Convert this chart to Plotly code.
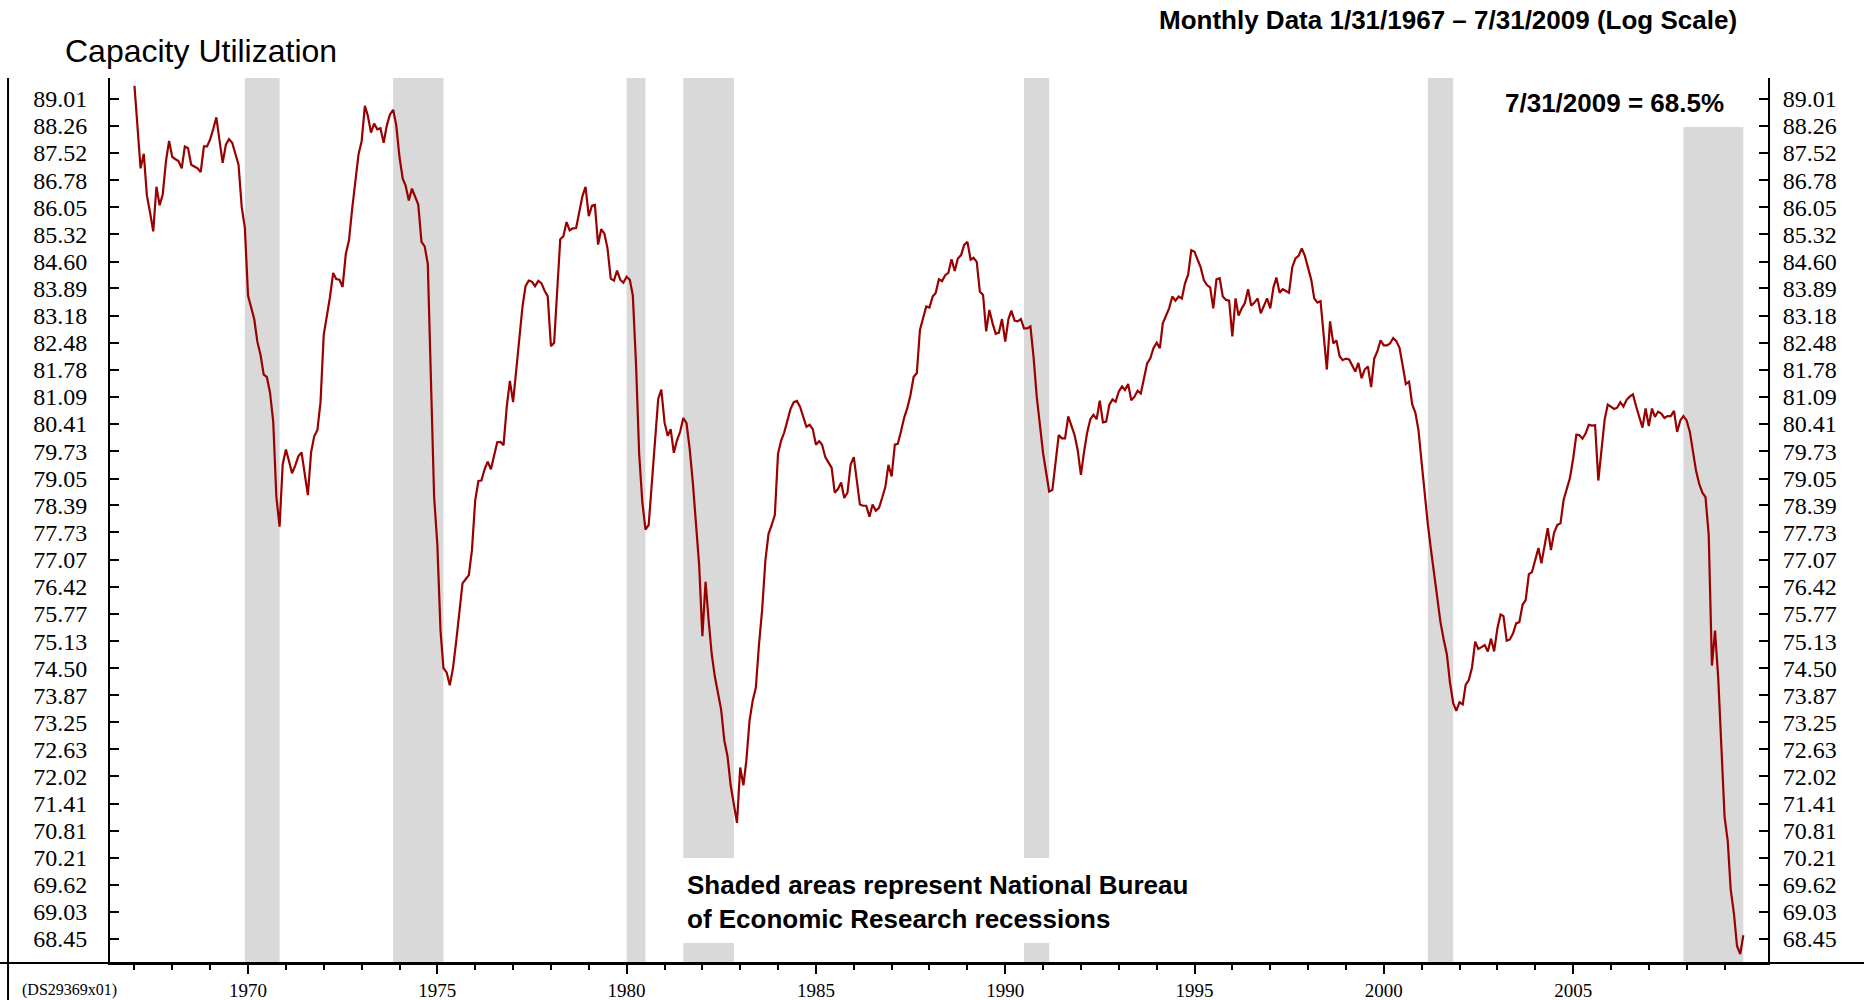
import pandas as pd
import plotly.graph_objects as go

# capacity utilization, monthly, Jan 1967 .. Jul 2009 (percent)
cu_1967_1969 = [
    89.38, 88.05, 87.10, 87.50, 86.36, 85.90, 85.40, 86.60, 86.10, 86.40, 87.30, 87.85,
    87.41, 87.35, 87.30, 87.10, 87.70, 87.65, 87.20, 87.15, 87.10, 87.00, 87.70, 87.70,
    87.90, 88.20, 88.50, 87.85, 87.25, 87.75, 87.90, 87.80, 87.50, 87.20, 86.05, 85.50,
]
cu_1970s = [
    83.70, 83.40, 83.10, 82.50, 82.17, 81.66, 81.60, 81.20, 80.46, 78.60, 77.87, 79.40,
    79.77, 79.47, 79.18, 79.37, 79.60, 79.70, 79.18, 78.64, 79.70, 80.10, 80.26, 80.96,
    82.68, 83.19, 83.66, 84.30, 84.14, 84.12, 83.93, 84.80, 85.17, 86.00, 86.76, 87.47,
    87.85, 88.82, 88.55, 88.08, 88.33, 88.17, 88.20, 87.80, 88.28, 88.58, 88.71, 88.28,
    87.41, 86.82, 86.63, 86.23, 86.55, 86.33, 86.12, 85.12, 85.00, 84.54, 81.56, 78.60,
    77.44, 75.37, 74.50, 74.40, 74.10, 74.50, 75.10, 75.75, 76.50, 76.60, 76.70, 77.30,
    78.50, 78.99, 79.00, 79.28, 79.47, 79.28, 79.62, 79.95, 79.96, 79.88, 80.85, 81.50,
    80.96, 81.80, 82.70, 83.40, 83.95, 84.10, 84.07, 83.95, 84.09, 84.03, 83.83, 83.69,
    82.39, 82.48, 83.77, 85.19, 85.27, 85.65, 85.43, 85.48, 85.49, 85.91, 86.35, 86.60,
    85.81, 86.09, 86.11, 85.05, 85.46, 85.34, 84.95, 84.15, 84.10, 84.36, 84.12, 84.04,
]
cu_1980s = [
    84.20, 84.12, 83.71, 81.93, 79.67, 78.46, 77.80, 77.91, 79.01, 80.11, 81.04, 81.28,
    80.45, 80.11, 80.28, 79.69, 80.00, 80.22, 80.56, 80.43, 79.78, 78.95, 78.02, 76.94,
    75.25, 76.54, 75.67, 74.83, 74.31, 73.90, 73.54, 72.83, 72.47, 71.82, 71.42, 70.98,
    72.22, 71.82, 72.37, 73.28, 73.74, 74.05, 75.04, 75.88, 77.05, 77.69, 77.91, 78.15,
    79.67, 80.00, 80.20, 80.50, 80.79, 80.96, 80.99, 80.84, 80.58, 80.34, 80.39, 80.28,
    79.89, 79.98, 79.89, 79.58, 79.45, 79.32, 78.70, 78.79, 78.95, 78.57, 78.70, 79.39,
    79.58, 79.01, 78.41, 78.38, 78.38, 78.11, 78.41, 78.26, 78.33, 78.57, 78.84, 79.39,
    79.10, 79.89, 79.91, 80.22, 80.56, 80.81, 81.13, 81.60, 81.70, 82.81, 83.16, 83.42,
    83.39, 83.68, 83.77, 84.13, 84.08, 84.24, 84.30, 84.66, 84.35, 84.68, 84.77, 85.04,
    85.12, 84.65, 84.70, 84.59, 83.81, 83.72, 82.77, 83.33, 82.98, 82.71, 82.74, 83.09,
]
cu_1990s = [
    82.51, 83.09, 83.31, 83.05, 83.03, 83.09, 82.85, 82.85, 82.90, 82.12, 81.10, 80.34,
    79.68, 79.18, 78.73, 78.77, 79.47, 80.13, 80.05, 80.05, 80.60, 80.39, 80.13, 79.76,
    79.14, 79.72, 80.19, 80.53, 80.64, 80.53, 81.00, 80.45, 80.47, 80.89, 81.03, 80.97,
    81.23, 81.36, 81.27, 81.42, 81.01, 81.10, 81.25, 81.18, 81.56, 81.95, 82.08, 82.34,
    82.48, 82.34, 82.98, 83.16, 83.37, 83.68, 83.57, 83.68, 83.63, 84.02, 84.26, 84.90,
    84.86, 84.64, 84.45, 84.11, 83.98, 83.92, 83.37, 84.13, 84.16, 83.68, 83.59, 83.57,
    82.64, 83.63, 83.18, 83.37, 83.51, 83.87, 83.44, 83.52, 83.63, 83.24, 83.44, 83.63,
    83.37, 83.92, 84.18, 83.78, 83.87, 83.83, 83.78, 84.45, 84.68, 84.75, 84.95, 84.75,
    84.40, 84.11, 83.63, 83.52, 83.56, 82.63, 81.79, 83.03, 82.46, 82.54, 82.13, 82.03,
    82.07, 82.05, 81.88, 81.74, 81.96, 81.57, 81.79, 81.87, 81.34, 82.07, 82.26, 82.54,
]
cu_2000s = [
    82.41, 82.41, 82.46, 82.60, 82.52, 82.35, 81.90, 81.42, 81.48, 80.91, 80.69, 80.25,
    79.43, 78.57, 77.93, 77.30, 76.72, 76.04, 75.58, 75.17, 74.82, 74.16, 73.69, 73.51,
    73.71, 73.66, 74.11, 74.23, 74.51, 75.12, 74.95, 74.99, 75.04, 74.89, 75.19, 74.89,
    75.43, 75.76, 75.72, 75.14, 75.17, 75.31, 75.55, 75.58, 75.99, 76.10, 76.72, 76.77,
    77.03, 77.35, 76.98, 77.38, 77.83, 77.30, 77.72, 77.91, 77.95, 78.52, 78.81, 79.06,
    79.54, 80.14, 80.13, 80.04, 80.17, 80.39, 80.37, 80.38, 79.00, 79.70, 80.52, 80.90,
    80.85, 80.79, 80.82, 80.96, 80.85, 81.02, 81.10, 81.16, 80.85, 80.61, 80.32, 80.80,
    80.36, 80.80, 80.59, 80.72, 80.67, 80.56, 80.61, 80.61, 80.74, 80.21, 80.50, 80.61,
    80.50, 80.21, 79.75, 79.24, 78.92, 78.70, 78.59, 77.67, 74.56, 75.38, 74.26, 72.62,
    71.12, 70.57, 69.52, 69.00, 68.30, 68.13, 68.53,
]

# NBER recessions (peak month .. trough month)
rec_start = ["1969-12-01", "1973-11-01", "1980-01-01", "1981-07-01", "1990-07-01", "2001-03-01", "2007-12-01"]
rec_end = ["1970-11-01", "1975-03-01", "1980-07-01", "1982-11-01", "1991-03-01", "2001-11-01", "2009-07-01"]

y_ticks = [89.01, 88.26, 87.52, 86.78, 86.05, 85.32, 84.60, 83.89, 83.18, 82.48, 81.78,
           81.09, 80.41, 79.73, 79.05, 78.39, 77.73, 77.07, 76.42, 75.77, 75.13, 74.50,
           73.87, 73.25, 72.63, 72.02, 71.41, 70.81, 70.21, 69.62, 69.03, 68.45]
label_years = [1970, 1975, 1980, 1985, 1990, 1995, 2000, 2005]
minor_years = list(range(1967, 2010))

values = cu_1967_1969 + cu_1970s + cu_1980s + cu_1990s + cu_2000s
dates = pd.date_range("1967-01-01", periods=len(values), freq="MS")

RED = "#990000"
GRAY = "#d9d9d9"
SERIF = "Liberation Serif, Times New Roman, serif"
SANS = "Liberation Sans, Arial, sans-serif"
y_range = [1.832114, 1.952291]
tick_text = ["%.2f" % v for v in y_ticks]

fig = go.Figure()
fig.add_trace(go.Scatter(x=dates, y=values, mode="lines",
                         line=dict(color=RED, width=2.2), hoverinfo="x+y"))
fig.add_trace(go.Scatter(x=[], y=[], yaxis="y2", showlegend=False))

shapes = []
for s, e in zip(rec_start, rec_end):
    shapes.append(dict(type="rect", xref="x", yref="paper", x0=s, x1=e, y0=0, y1=1,
                       fillcolor=GRAY, line_width=0, layer="below"))
# white backgrounds behind the two text notes
shapes.append(dict(type="rect", xref="paper", yref="paper", x0=0.33, x1=0.67, y0=0.0226, y1=0.1186,
                   fillcolor="white", line_width=0, layer="below"))
shapes.append(dict(type="rect", xref="paper", yref="paper", x0=0.832, x1=0.992, y0=0.9446, y1=1.0,
                   fillcolor="white", line_width=0, layer="below"))
# outer frame lines
shapes.append(dict(type="line", xref="paper", yref="paper", x0=-0.0615, x1=-0.0615, y0=1.0, y1=-0.05,
                   line=dict(color="black", width=2)))
shapes.append(dict(type="line", xref="paper", yref="paper", x0=-0.07, x1=1.07, y0=0, y1=0,
                   line=dict(color="black", width=2)))

axis_y = dict(type="log", range=y_range, tickvals=y_ticks, ticktext=tick_text,
              ticks="inside", ticklen=9, tickwidth=2, tickcolor="black", automargin=False,
              showline=True, linewidth=2, linecolor="black", showgrid=False, zeroline=False,
              tickfont=dict(family=SERIF, size=24, color="black"))

fig.update_layout(
    width=1864, height=1000,
    margin=dict(l=110, r=96, t=78, b=37),
    paper_bgcolor="white", plot_bgcolor="white",
    showlegend=False,
    xaxis=dict(type="date", range=["1966-05-10", "2010-02-24"],
               tickvals=["%d-01-01" % y for y in label_years], ticktext=[str(y) for y in label_years],
               ticks="outside", ticklen=9, tickwidth=2, tickcolor="black",
               minor=dict(tickvals=["%d-01-01" % y for y in minor_years], ticks="outside", ticklen=5,
                          tickwidth=2, tickcolor="black", showgrid=False),
               showline=True, linewidth=2, linecolor="black", showgrid=False, zeroline=False,
               automargin=False,
               tickfont=dict(family=SERIF, size=19, color="black"), ticklabelstandoff=0),
    yaxis=dict(axis_y, side="left", ticklabelstandoff=16),
    yaxis2=dict(axis_y, side="right", overlaying="y", ticklabelstandoff=8),
    shapes=shapes,
    annotations=[
        dict(text="Capacity Utilization", xref="paper", yref="paper", x=-0.0284, y=1.0305,
             xanchor="left", yanchor="middle", showarrow=False,
             font=dict(family=SANS, size=32, color="black")),
        dict(text="<b>Monthly Data 1/31/1967 \u2013 7/31/2009 (Log Scale)</b>", xref="paper", yref="paper",
             x=0.9825, y=1.066, xanchor="right", yanchor="middle", showarrow=False,
             font=dict(family=SANS, size=26, color="black")),
        dict(text="<b>7/31/2009 = 68.5%</b>", xref="paper", yref="paper", x=0.9747, y=0.972,
             xanchor="right", yanchor="middle", showarrow=False,
             font=dict(family=SANS, size=26, color="black")),
        dict(text="<b>Shaded areas represent National Bureau<br>of Economic Research recessions</b>",
             xref="paper", yref="paper", x=0.3468, y=0.069, xanchor="left", yanchor="middle",
             align="left", showarrow=False, font=dict(family=SANS, size=26, color="black")),
        dict(text="(DS29369x01)", xref="paper", yref="paper", x=-0.0543, y=-0.0305,
             xanchor="left", yanchor="middle", showarrow=False,
             font=dict(family=SERIF, size=16, color="black")),
    ],
)

fig.write_html("out.html", config={"displayModeBar": False},
               post_script="document.body.style.margin='0px';")
